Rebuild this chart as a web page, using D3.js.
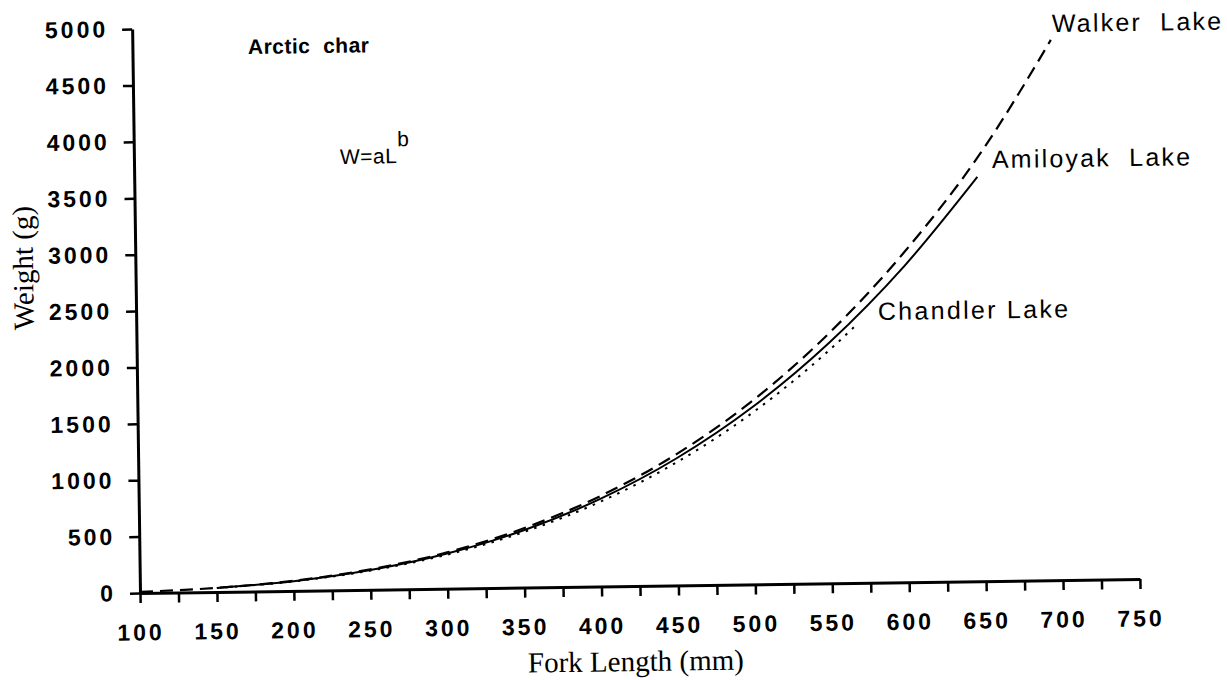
<!DOCTYPE html>
<html>
<head>
<meta charset="utf-8">
<script src="https://cdn.jsdelivr.net/npm/d3@7"></script>
<style>
  body { margin: 0; background: #fff; }
  svg { display: block; }
  text { white-space: pre; }
</style>
</head>
<body>
<svg id="chart" width="1227" height="680"></svg>
<script>
// Length-weight curves (W = aL^b) for Arctic char in three lakes
const walkerLength   = [100, 150, 200, 250, 300, 350, 400, 450, 500, 550, 600, 650, 697];
const walkerWeight   = [10, 36, 89, 181, 322, 526, 802, 1165, 1630, 2215, 2930, 3790, 4790];

const amiloyakLength = [150, 200, 250, 300, 350, 400, 450, 500, 550, 600, 648];
const amiloyakWeight = [35, 86, 175, 312, 509, 777, 1128, 1575, 2131, 2808, 3585];

const chandlerLength = [150, 200, 250, 300, 350, 400, 450, 500, 550, 569];
const chandlerWeight = [34, 84, 170, 302, 493, 752, 1092, 1525, 2065, 2300];

const xTickValues = [100, 125, 150, 175, 200, 225, 250, 275, 300, 325, 350, 375, 400, 425,
                     450, 475, 500, 525, 550, 575, 600, 625, 650, 675, 700, 725, 750];
const xTickLabels = [100, 150, 200, 250, 300, 350, 400, 450, 500, 550, 600, 650, 700, 750];
const yTickLabels = [0, 500, 1000, 1500, 2000, 2500, 3000, 3500, 4000, 4500, 5000];

const series = [
  { name: "Walker  Lake",   L: walkerLength,   W: walkerWeight,   dash: "13,7", width: 2.2 },
  { name: "Amiloyak  Lake", L: amiloyakLength, W: amiloyakWeight, dash: null,   width: 2.0 },
  { name: "Chandler Lake",  L: chandlerLength, W: chandlerWeight, dash: "2.5,6.5", width: 2.0 }
];

const svg = d3.select("#chart");
const ox = 140, oy = 593;          // plot origin (100 mm, 0 g)
const tilt = -0.8;                 // page is slightly skewed

const x = d3.scaleLinear().domain([100, 750]).range([ox, 1140]);
const y = d3.scaleLinear().domain([0, 5000]).range([oy, 29]);

const plot = svg.append("g").attr("transform", `rotate(${tilt},${ox},${oy})`);

// axes
const xAxis = d3.axisBottom(x)
  .tickValues(xTickValues)
  .tickSize(10)
  .tickSizeOuter(0)
  .tickPadding(21)
  .tickFormat(d => xTickLabels.includes(d) ? d : "");

const yAxis = d3.axisLeft(y)
  .tickValues(yTickLabels)
  .tickSize(10)
  .tickSizeOuter(0)
  .tickPadding(14)
  .tickFormat(d => d);

const gx = plot.append("g").attr("transform", `translate(0,${oy})`).call(xAxis);
const gy = plot.append("g").attr("transform", `translate(${ox},0)`).call(yAxis);

[gx, gy].forEach(g => {
  g.select(".domain").attr("stroke", "#000").attr("stroke-width", 3);
  g.selectAll(".tick line").attr("stroke", "#000").attr("stroke-width", 2.5);
  g.selectAll(".tick text")
    .attr("fill", "#000")
    .style("font-family", "'Liberation Sans', Arial, sans-serif")
    .style("font-weight", "bold")
    .style("font-size", "23px")
    .style("letter-spacing", "3px");
});

// curves
const line = d3.line()
  .x(d => x(d[0]))
  .y(d => y(d[1]))
  .curve(d3.curveMonotoneX);

plot.selectAll("path.curve")
  .data(series)
  .join("path")
  .attr("class", "curve")
  .attr("d", s => line(s.L.map((l, i) => [l, s.W[i]])))
  .attr("fill", "none")
  .attr("stroke", "#000")
  .attr("stroke-width", s => s.width)
  .attr("stroke-dasharray", s => s.dash);

// text helper: each label carries the same slight skew as the plot
function label(txt, px, py, opts) {
  const t = svg.append("text")
    .attr("x", px).attr("y", py)
    .attr("transform", `rotate(${tilt},${px},${py})`)
    .attr("fill", "#000")
    .style("font-family", opts.family || "'Liberation Sans', Arial, sans-serif")
    .style("font-size", opts.size + "px")
    .style("font-weight", opts.weight || "normal")
    .style("letter-spacing", (opts.ls || 0) + "px")
    .attr("text-anchor", opts.anchor || "start")
    .text(txt);
  return t;
}

// series labels
label("Walker  Lake", 1052, 32, { size: 25, ls: 2.2 });
label("Amiloyak  Lake", 992, 168, { size: 25, ls: 2.2 });
label("Chandler Lake", 878, 320, { size: 25, ls: 2.3 });

// title and formula
label("Arctic  char", 248, 54, { size: 21, weight: "bold", ls: 0.5 });
const f = label("W=aL", 340, 164, { size: 21, ls: 0.5 });
f.append("tspan").attr("dy", -17).style("font-size", "21px").text("b");

// axis titles
label("Fork Length (mm)", 636, 671, { size: 29, family: "'Liberation Serif', 'Times New Roman', serif", anchor: "middle" });
svg.append("text")
  .attr("transform", `translate(33,268) rotate(-90.8)`)
  .attr("text-anchor", "middle")
  .attr("fill", "#000")
  .style("font-family", "'Liberation Serif', 'Times New Roman', serif")
  .style("font-size", "29px")
  .text("Weight (g)");
</script>
</body>
</html>
